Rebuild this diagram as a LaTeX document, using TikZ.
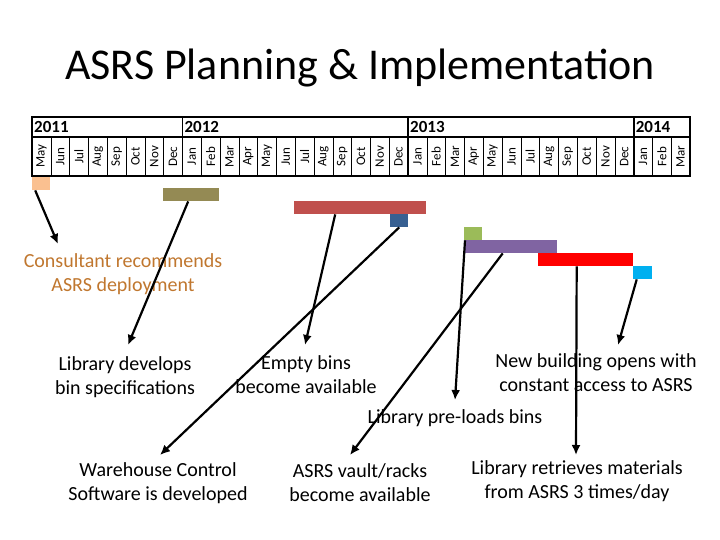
\documentclass[tikz,border=0pt]{standalone}
\usepackage{fontspec}
\setmainfont{Carlito}
\usetikzlibrary{arrows.meta}
\definecolor{peach}{HTML}{FAC090}
\definecolor{olivebar}{HTML}{948A54}
\definecolor{brick}{HTML}{C0504D}
\definecolor{steel}{HTML}{376092}
\definecolor{leaf}{HTML}{9BBB59}
\definecolor{lilac}{HTML}{8064A2}
\definecolor{sky}{HTML}{00B0F0}
\definecolor{rust}{HTML}{C0772F}
\begin{document}
\begin{tikzpicture}
		[x=1pt,y=-1pt,
		bar/.style={draw=none,minimum height=13pt,inner sep=0pt,anchor=north west},
		label/.style={align=center,font=\fontsize{20}{24}\selectfont,inner sep=2pt},
		year/.style={anchor=west,font=\bfseries\fontsize{17}{17}\selectfont,inner sep=2pt},
		month/.style={rotate=90,font=\fontsize{13}{13}\selectfont,inner sep=0pt},
		pointer/.style={-{Latex[length=10pt,width=9pt]},line width=2.2pt}]
		\useasboundingbox (0,0) rectangle (720,540);
		\node[font=\fontsize{44}{48}\selectfont] (title) at (360,68) {ASRS Planning \& Implementation};
		% timeline header
		\draw[line width=1.8pt] (32,117) rectangle (690,176);
		\draw[line width=1.2pt] (32,137) -- (690,137);
		\foreach \i/\m in {0/May,1/Jun,2/Jul,3/Aug,4/Sep,5/Oct,6/Nov,7/Dec,
			8/Jan,9/Feb,10/Mar,11/Apr,12/May,13/Jun,14/Jul,15/Aug,16/Sep,17/Oct,18/Nov,19/Dec,
			20/Jan,21/Feb,22/Mar,23/Apr,24/May,25/Jun,26/Jul,27/Aug,28/Sep,29/Oct,30/Nov,31/Dec,
			32/Jan,33/Feb,34/Mar}{
			\node[month] (m\i) at ({32+18.8*(\i+0.5)},156.5) {\m};
			\ifnum\i>0 \draw[thin] ({32+18.8*\i},137) -- ({32+18.8*\i},176); \fi
		}
		\foreach \i/\y in {0/2011,8/2012,20/2013,32/2014}{
			\node[year] (y\y) at ({32+18.8*\i},127) {\y};
			\ifnum\i>0 \draw[line width=1.8pt] ({32+18.8*\i},117) -- ({32+18.8*\i},176); \fi
		}
		% bars
		\node[bar,fill=peach,minimum width=18pt] (b1) at (32,177) {};
		\node[bar,fill=olivebar,minimum width=56pt] (b2) at (163,188) {};
		\node[bar,fill=brick,minimum width=132pt] (b3) at (294,201) {};
		\node[bar,fill=steel,minimum width=18pt] (b4) at (390,214) {};
		\node[bar,fill=leaf,minimum width=18pt] (b5) at (464,227) {};
		\node[bar,fill=lilac,minimum width=93pt] (b6) at (464,240) {};
		\node[bar,fill=red,minimum width=95pt] (b7) at (538,253) {};
		\node[bar,fill=sky,minimum width=19pt] (b8) at (633,266) {};
		% labels
		\node[label,text=rust] (consult) at (123,274) {Consultant recommends\\ASRS deployment};
		\node[label] (binspec) at (125,377) {Library develops\\bin specifications};
		\node[label] (empty) at (306,375) {Empty bins\\become available};
		\node[label] (building) at (596,373) {New building opens with\\constant access to ASRS};
		\node[label] (preload) at (455,418) {Library pre-loads bins};
		\node[label] (warehouse) at (158,483) {Warehouse Control\\Software is developed};
		\node[label] (vault) at (360,483) {ASRS vault/racks\\become available};
		\node[label] (retrieve) at (577,481) {Library retrieves materials\\from ASRS 3 times/day};
		% arrow ends
		\coordinate (e1) at (58,244);
		\coordinate (e2) at (128,345);
		\coordinate (e3) at (305,345);
		\coordinate (e4) at (160,455);
		\coordinate (e5) at (455,400);
		\coordinate (e6) at (350,455);
		\coordinate (e7) at (576,455);
		\coordinate (e8) at (618,345);
		% pointers
		\draw[pointer] ([xshift=-6pt]b1.south) -- (e1);
		\draw[pointer] ([xshift=-3pt]b2.south) -- (e2);
		\draw[pointer] ([xshift=-25pt]b3.south) -- (e3);
		\draw[pointer] (b4.south) -- (e4);
		\draw[pointer] ([xshift=1pt]b5.south west) -- (e5);
		\draw[pointer] ([xshift=-8pt]b6.south) -- (e6);
		\draw[pointer] ([xshift=-9pt]b7.south) -- (e7);
		\draw[pointer] ([xshift=-6pt]b8.south) -- (e8);
\end{tikzpicture}
\end{document}
